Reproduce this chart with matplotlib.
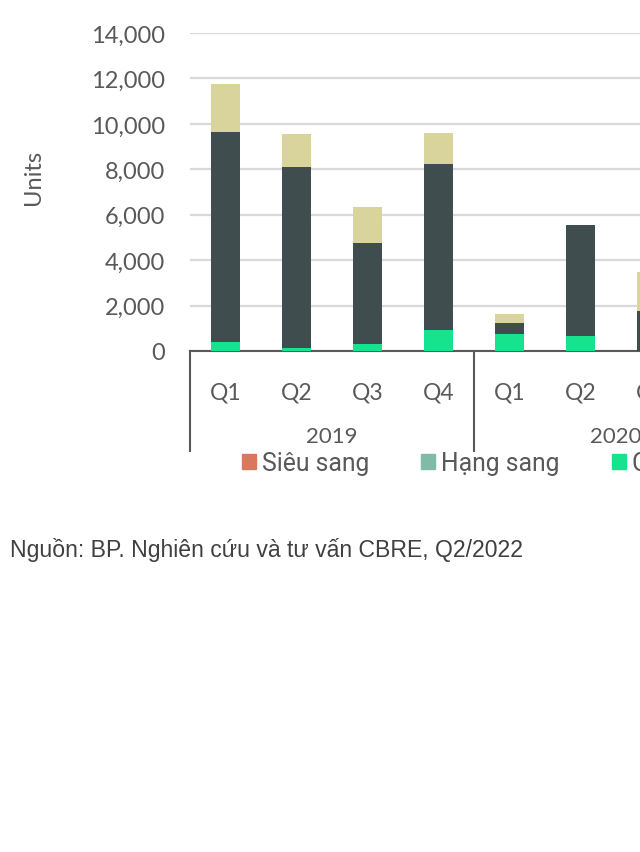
import numpy as np
import matplotlib.pyplot as plt
from matplotlib.patches import Patch
import matplotlib.transforms as mtransforms

# du lieu doc tu hinh (units)
quarters = ["Q1", "Q2", "Q3", "Q4", "Q1", "Q2", "Q3"]
years = ["2019", "2020"]
sieu_sang = [0, 0, 0, 0, 0, 0, 0]
hang_sang = [0, 0, 0, 0, 0, 0, 0]
cao_cap = [380, 120, 310, 940, 750, 660, 0]
trung_cap = [9280, 7980, 4450, 7310, 470, 4890, 1770]
binh_dan = [2110, 1440, 1600, 1330, 390, 0, 1730]

series = [("Siêu sang", sieu_sang, "#D9785C"),
          ("Hạng sang", hang_sang, "#80BBA6"),
          ("Cao cấp", cao_cap, "#17E28E"),
          ("Trung cấp", trung_cap, "#3F4D4F"),
          ("Bình dân", binh_dan, "#D8D49B")]

W, H = 640, 853
fig = plt.figure(figsize=(W / 100, H / 100), dpi=100)
slot = 71
n_slots = 14  # chart goc dai hon khung hinh
ax = fig.add_axes([190 / W, (H - 352) / H, n_slots * slot / W, 318 / H])

x = np.arange(len(quarters))
bottom = np.zeros(len(quarters))
for name, vals, col in series:
    vals = np.array(vals, dtype=float)
    ax.bar(x, vals, width=0.4, bottom=bottom, color=col, zorder=3)
    bottom += vals

ax.set_xlim(-0.5, n_slots - 0.5)
ax.set_ylim(0, 14000)
ax.set_yticks(np.arange(0, 14001, 2000))
ax.set_yticklabels([f"{v:,}" for v in range(0, 14001, 2000)],
                   fontsize=17, color="#595959", family="Lato")
ax.yaxis.grid(True, color="#D9D9D9", lw=1.6, zorder=0)
ax.tick_params(axis="y", length=0, pad=18)
ax.set_ylabel("Units", fontsize=17, color="#595959", family="Lato", va="center")
ax.yaxis.set_label_coords(-(190 - 33) / (n_slots * slot), 0.55)

ax.set_xticks(x)
ax.set_xticklabels(quarters, fontsize=16.5, color="#595959", family="Lato")
ax.tick_params(axis="x", length=0, pad=22)

for s in ["top", "right", "left"]:
    ax.spines[s].set_visible(False)
ax.spines["bottom"].set_color("#595959")
ax.spines["bottom"].set_linewidth(1.5)

trans = mtransforms.blended_transform_factory(ax.transData, ax.transAxes)
low = -(452 - 352) / 318
for b in [-0.5, 3.5, 7.5]:
    ax.plot([b, b], [0, low], color="#595959", lw=1.5, transform=trans, clip_on=False)
for i, yr in enumerate(years):
    ax.text(4 * i + 1.5, -(437 - 352) / 318, yr, transform=trans, ha="center",
            va="center", fontsize=16, color="#595959", family="Lato")

fs_leg = 17.8
px = fs_leg / 0.72
handles = [Patch(color=col, label=name) for name, vals, col in series]
fig.legend(handles=handles, loc="center left", ncol=5,
           bbox_to_anchor=((242 - 0.9 * px) / W, (H - 463) / H), frameon=False,
           prop={"family": "Roboto", "size": fs_leg}, labelcolor="#595959",
           handlelength=14 / px, handleheight=0.6, handletextpad=6 / px,
           columnspacing=52 / px)

fig.text(10 / W, (H - 550) / H, "Nguồn: BP. Nghiên cứu và tư vấn CBRE, Q2/2022",
         fontsize=16.6, color="#404040", family="Liberation Sans", va="center")

fig.savefig("out.png", dpi=100)
